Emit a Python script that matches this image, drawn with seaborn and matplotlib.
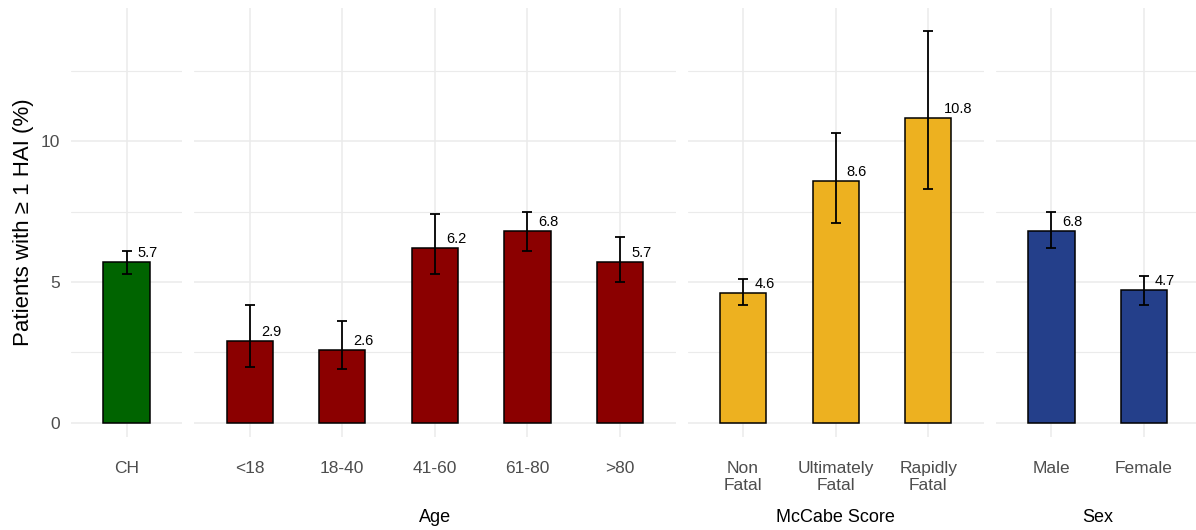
import numpy as np
import pandas as pd
import matplotlib
matplotlib.use("Agg")
import matplotlib.pyplot as plt
import seaborn as sns

# ---------------- data ----------------
ch_cats = ["CH"]
ch_vals = [5.7]
ch_lo = [5.3]
ch_hi = [6.1]

age_cats = ["<18", "18-40", "41-60", "61-80", ">80"]
age_vals = [2.9, 2.6, 6.2, 6.8, 5.7]
age_lo = [2.0, 1.9, 5.3, 6.1, 5.0]
age_hi = [4.2, 3.6, 7.4, 7.5, 6.6]

mccabe_cats = ["Non\nFatal", "Ultimately\nFatal", "Rapidly\nFatal"]
mccabe_vals = [4.6, 8.6, 10.8]
mccabe_lo = [4.2, 7.1, 8.3]
mccabe_hi = [5.1, 10.3, 13.9]

sex_cats = ["Male", "Female"]
sex_vals = [6.8, 4.7]
sex_lo = [6.2, 4.2]
sex_hi = [7.5, 5.2]

panel_titles = ["", "Age", "McCabe Score", "Sex"]
panel_colors = ["#006400", "#8B0000", "#EDB120", "#243F8A"]
y_label = "Patients with \u2265 1 HAI (%)"
y_major = [0, 5, 10]
y_minor = [2.5, 7.5, 12.5]

# ---------------- style ----------------
sns.set_theme(style="white")
plt.rcParams["font.family"] = ["Liberation Sans", "DejaVu Sans"]

panels = [
    (ch_cats, ch_vals, ch_lo, ch_hi),
    (age_cats, age_vals, age_lo, age_hi),
    (mccabe_cats, mccabe_vals, mccabe_lo, mccabe_hi),
    (sex_cats, sex_vals, sex_lo, sex_hi),
]

W, H = 1196, 530
fig = plt.figure(figsize=(W / 100, H / 100), dpi=100)
ratios = [len(p[0]) + 0.2 for p in panels]
gs = fig.add_gridspec(1, 4, width_ratios=ratios,
                      left=71 / W, right=1199.5 / W,
                      top=1 - 8 / H, bottom=1 - 437 / H,
                      wspace=0.0439)

grid_col = "#EBEBEB"
labels_to_fix = []
axes = []
for k, ((cats, vals, lo, hi), title, col) in enumerate(zip(panels, panel_titles, panel_colors)):
    ax = fig.add_subplot(gs[0, k])
    axes.append(ax)
    df = pd.DataFrame({"cat": cats, "val": vals})
    sns.barplot(data=df, x="cat", y="val", order=cats, color=col,
                width=0.5, edgecolor="black", linewidth=1.1,
                saturation=1, ax=ax, errorbar=None, zorder=3)
    pos = np.arange(len(cats))
    v = np.array(vals)
    ax.errorbar(pos, v, yerr=[v - np.array(lo), np.array(hi) - v],
                fmt="none", ecolor="black", elinewidth=1.3,
                capsize=3.3, capthick=1.3, zorder=4)
    for i, val in enumerate(vals):
        t = ax.annotate(f"{val:.1f}", xy=(i, val), xytext=(8, 3.6),
                        textcoords="offset points", ha="left", va="baseline",
                        fontsize=10.5, color="black", zorder=5)
        labels_to_fix.append(t)

    ax.set_xlim(-0.6, len(cats) - 0.4)
    ax.set_ylim(-0.5, 14.72)
    ax.set_yticks(y_major)
    ax.set_yticks(y_minor, minor=True)
    ax.set_xticks(pos)
    ax.set_xticklabels(cats, fontsize=12.5, color="#4D4D4D", linespacing=1.2)
    ax.tick_params(axis="x", length=0, pad=17)
    ax.tick_params(axis="y", which="both", length=0, pad=8)
    if k == 0:
        ax.set_yticklabels([str(t) for t in y_major], fontsize=12.5, color="#4D4D4D")
        ax.set_ylabel(y_label, fontsize=16, color="black", labelpad=5)
    else:
        ax.set_yticklabels([])
        ax.set_ylabel("")
    ax.set_xlabel("")
    ax.grid(True, which="major", axis="both", color=grid_col, linewidth=1.1, zorder=0)
    ax.grid(True, which="minor", axis="y", color=grid_col, linewidth=0.8, zorder=0)
    ax.set_axisbelow(True)
    for s in ax.spines.values():
        s.set_visible(False)
    ax.set_facecolor("white")
    if title:
        ax.annotate(title, xy=(0.5, 1 - 517 / H),
                    xycoords=("axes fraction", "figure fraction"),
                    ha="center", va="center", fontsize=13, color="black")

# shift value labels like ggplot hjust (left edge at ~0.55 of text width)
fig.canvas.draw()
r = fig.canvas.get_renderer()
for t in labels_to_fix:
    w_px = t.get_window_extent(renderer=r).width
    t.xyann = (0.55 * w_px * 72 / 100, 3.6)

fig.savefig("out.png", dpi=100, facecolor="white")
